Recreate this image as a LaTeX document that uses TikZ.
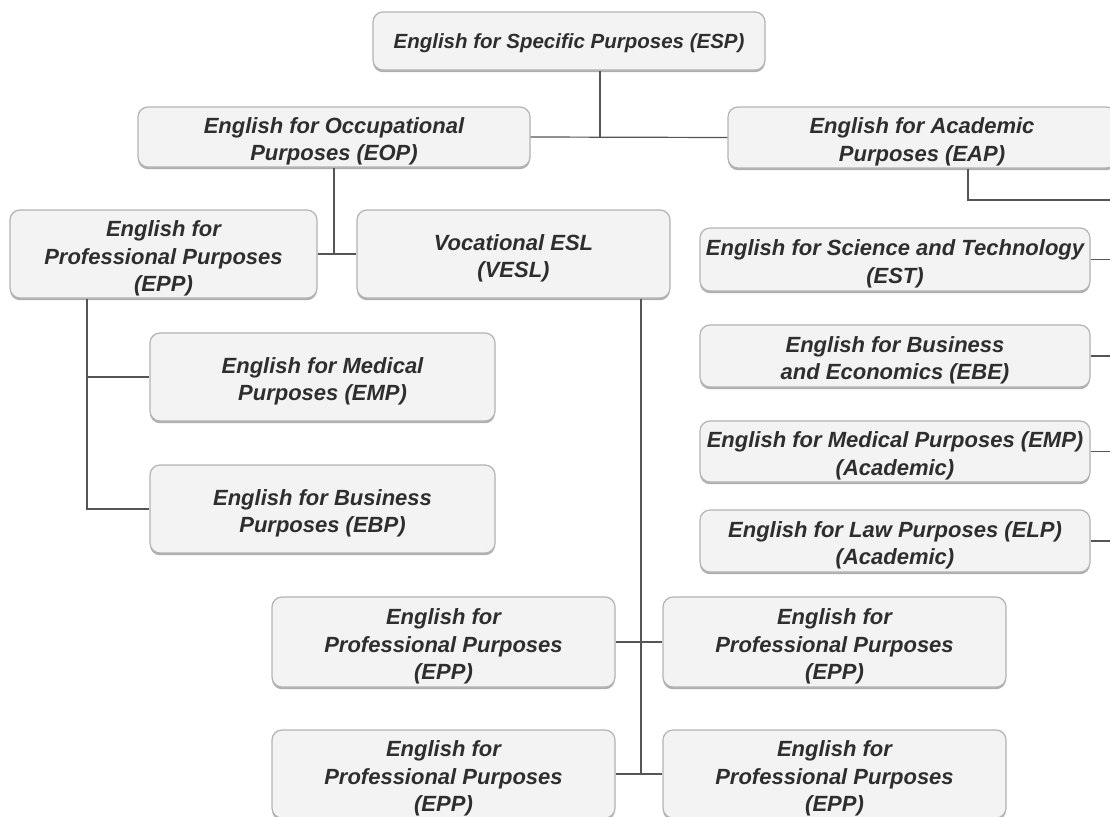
\documentclass[tikz,border=0pt]{standalone}
\usepackage{fontspec}
\setmainfont{Liberation Sans}
\usetikzlibrary{shadows}
\definecolor{boxfill}{HTML}{F3F3F3}
\definecolor{boxline}{HTML}{B4B4B4}
\definecolor{txt}{HTML}{2E2E2E}
\definecolor{conn}{HTML}{555555}
\newcommand{\lbl}[2][4.5pt]{\raisebox{-#1}[\height][\depth]{\begin{tabular}{@{}c@{}}#2\end{tabular}}}
\begin{document}
\begin{tikzpicture}[x=1pt,y=-1pt,
  box/.style={draw=boxline, line width=1.2pt, fill=boxfill, rounded corners=10pt,
    text=txt, inner sep=0pt,
    font=\fontsize{22}{27.5}\selectfont\bfseries\itshape,
    drop shadow={shadow xshift=0pt, shadow yshift=-2.2pt, fill=black!45, opacity=0.7}},
  conline/.style={draw=conn, line width=1.2pt}]
\useasboundingbox (0,0) rectangle (1110,816);
\clip (0,0) rectangle (1110,816);
\fill[white] (0,0) rectangle (1110,816);
% nodes
\node[box, minimum width=392pt, minimum height=58pt, font=\fontsize{20.5}{26}\selectfont\bfseries\itshape] (esp) at (569,41) {\lbl[2pt]{English for Specific Purposes (ESP)}};
\node[box, minimum width=392pt, minimum height=60pt] (eop) at (334,137) {\lbl{English for Occupational\\Purposes (EOP)}};
\node[box, minimum width=388pt, minimum height=61pt] (eap) at (922,137.5) {\lbl{English for Academic\\Purposes (EAP)}};
\node[box, minimum width=307pt, minimum height=88pt] (epp) at (163.5,254) {\lbl{English for\\Professional Purposes\\(EPP)}};
\node[box, minimum width=313pt, minimum height=88pt] (vesl) at (513.5,254) {\lbl{Vocational ESL\\(VESL)}};
\node[box, minimum width=345pt, minimum height=88pt] (emp) at (322.5,377) {\lbl{English for Medical\\Purposes (EMP)}};
\node[box, minimum width=345pt, minimum height=88pt] (ebp) at (322.5,509) {\lbl{English for Business\\Purposes (EBP)}};
\node[box, minimum width=390pt, minimum height=63pt] (est) at (895,259.5) {\lbl{English for Science and Technology\\(EST)}};
\node[box, minimum width=390pt, minimum height=62pt] (ebe) at (895,356) {\lbl{English for Business\\and Economics (EBE)}};
\node[box, minimum width=390pt, minimum height=61pt] (empa) at (895,451.5) {\lbl{English for Medical Purposes (EMP)\\(Academic)}};
\node[box, minimum width=390pt, minimum height=62pt] (elp) at (895,541) {\lbl{English for Law Purposes (ELP)\\(Academic)}};
\node[box, minimum width=343pt, minimum height=90pt] (b1) at (443.5,642) {\lbl{English for\\Professional Purposes\\(EPP)}};
\node[box, minimum width=343pt, minimum height=90pt] (b2) at (834.5,642) {\lbl{English for\\Professional Purposes\\(EPP)}};
\node[box, minimum width=343pt, minimum height=88pt] (b3) at (443.5,774) {\lbl{English for\\Professional Purposes\\(EPP)}};
\node[box, minimum width=343pt, minimum height=88pt] (b4) at (834.5,774) {\lbl{English for\\Professional Purposes\\(EPP)}};
% coordinates
\coordinate (espx) at (600,0);
\coordinate (eapx) at (968,0);
\coordinate (edge) at (1110,200);
\coordinate (eppx) at (87,0);
\coordinate (veslx) at (641,0);
% connectors
\draw[conline] (esp.south -| espx) -- (espx |- eop.east);
\draw[conline] (eop.east) -- (eap.west);
\draw[conline] (eap.south -| eapx) |- (edge);
\draw[conline] (eop.south) -- (eop.south |- epp.east);
\draw[conline] (epp.east) -- (vesl.west);
\draw[conline] (epp.south -| eppx) |- (ebp.west);
\draw[conline] (emp.west) -- (emp.west -| eppx);
\draw[conline] (est.east) -- (est.east -| edge);
\draw[conline] (ebe.east) -- (ebe.east -| edge);
\draw[conline] (empa.east) -- (empa.east -| edge);
\draw[conline] (elp.east) -- (elp.east -| edge);
\draw[conline] (vesl.south -| veslx) -- (veslx |- b3.east);
\draw[conline] (b1.east) -- (b2.west);
\draw[conline] (b3.east) -- (b4.west);
\end{tikzpicture}
\end{document}
